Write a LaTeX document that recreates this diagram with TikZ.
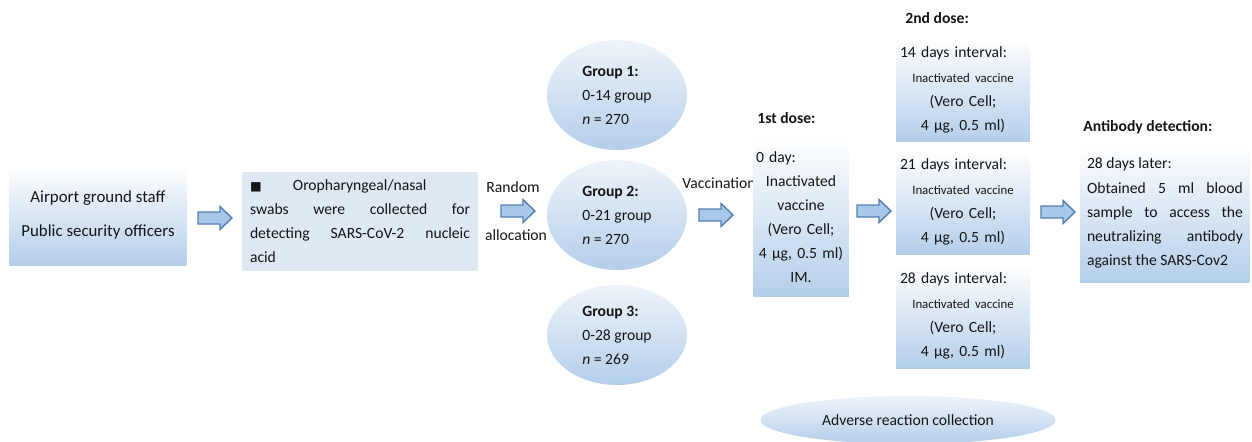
\documentclass[tikz,border=0pt]{standalone}
\usepackage{fontspec}
\setmainfont{Carlito}
\newfontfamily\symfont{DejaVu Sans}
\usetikzlibrary{shapes.geometric}
\definecolor{txt}{RGB}{22,22,22}
\definecolor{boxblue}{RGB}{180,206,234}
\definecolor{boxpale}{RGB}{222,233,244}
\definecolor{arrfill}{RGB}{168,200,234}
\definecolor{arrline}{RGB}{84,126,176}
\tikzset{
  box/.style={inner sep=0pt, top color=white, bottom color=boxblue, text=txt},
  grp/.style={ellipse, inner sep=0pt, top color=boxpale!50!white, bottom color=boxblue, text=txt},
  pics/barrow/.style={code={
    \draw[draw=arrline, fill=arrfill, line width=0.8pt, line join=miter]
      (-17,-6) -- (5,-6) -- (5,-11.5) -- (17,0) -- (5,11.5) -- (5,6) -- (-17,6) -- cycle;}},
  lbl/.style={text=txt, inner sep=0pt},
  head/.style={lbl, font=\fontsize{8.9}{13.7}\selectfont\bfseries},
}
\newcommand{\smallvac}{{\fontsize{7.3}{13.7}\selectfont Inactivated vaccine}}
\begin{document}
\begin{tikzpicture}[x=0.02cm, y=-0.02cm, every node/.style={font=\fontsize{8.9}{13.7}\selectfont}]
\useasboundingbox (0,0) rectangle (1252,441);

% participants and screening
\node[box, minimum width=3.54cm, minimum height=2cm, align=center,
  font=\fontsize{9.6}{13.7}\selectfont] (staff) at (98,215)
  {Airport ground staff\\[5.7pt] Public security officers};
\pic (a1) at (215,218) {barrow};
\node[box, top color=boxpale, bottom color=boxpale, minimum width=4.7cm, minimum height=1.96cm,
  text width=4.4cm, align=justify] (swab) at (360,221)
  {{\symfont\fontsize{7}{14.2}\selectfont■}\hspace{2em}Oropharyngeal/nasal\\
   swabs were collected for\linebreak detecting SARS-CoV-2 nucleic\linebreak acid};

% random allocation
\node[lbl] (rand) at (513,187) {Random};
\pic (a2) at (518,211) {barrow};
\node[lbl] (alloc) at (516,235) {allocation};

% groups
\node[grp, minimum width=2.8cm, minimum height=2.2cm, align=left] (g1) at (617,95)
  {\textbf{Group 1:}\\ 0-14 group\\ \textit{n} = 270};
\node[grp, minimum width=2.8cm, minimum height=2.2cm, align=left] (g2) at (617,215)
  {\textbf{Group 2:}\\ 0-21 group\\ \textit{n} = 270};
\node[grp, minimum width=2.8cm, minimum height=2cm, align=left] (g3) at (617,335)
  {\textbf{Group 3:}\\ 0-28 group\\ \textit{n} = 269};

% first dose
\node[lbl] (vacc) at (719,183) {Vaccination};
\pic (a3) at (716,215) {barrow};
\node[head, anchor=west] (d1head) at (757,118) {1st dose:};
\node[box, minimum width=1.92cm, minimum height=3.2cm, text width=1.8cm, align=center] (dose1) at (801,217)
  {\makebox[1.8cm][l]{0 day:}\\ Inactivated\\ vaccine\\ (Vero Cell;\\ 4 µg, 0.5 ml)\\ IM.};
\pic (a4) at (874,211) {barrow};

% second dose
\node[head, anchor=west] (d2head) at (905,18) {2nd dose:};
\foreach \d/\y/\nm in {14/90/d14, 21/202/d21, 28/316/d28}
  \node[box, minimum width=2.68cm, minimum height=2.08cm, text width=2.52cm, align=center] (\nm) at (963,\y)
    {\makebox[2.52cm][l]{\d\ days interval:}\\ \smallvac\\ (Vero Cell;\\ 4 µg, 0.5 ml)};
\pic (a5) at (1058,212) {barrow};

% antibody detection
\node[head, anchor=west] (abhead) at (1083,127) {Antibody detection:};
\node[box, minimum width=3.4cm, minimum height=2.8cm, text width=3.12cm, align=justify] (ab) at (1165,213)
  {28 days later:\\ Obtained 5 ml blood\linebreak sample to access the\linebreak neutralizing antibody\linebreak against the SARS-Cov2};

% adverse reactions
\node[grp, minimum width=5.9cm, minimum height=0.96cm] (adv) at (908,420) {Adverse reaction collection};
\end{tikzpicture}
\end{document}
